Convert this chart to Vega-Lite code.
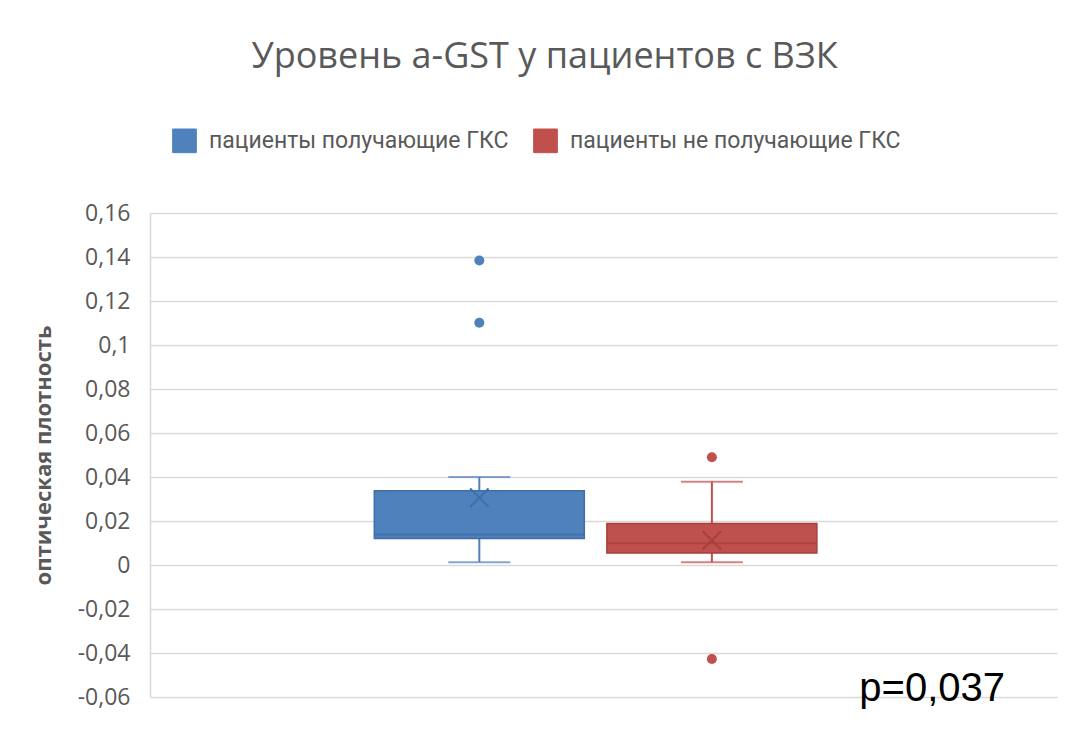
{
  "$schema": "https://vega.github.io/schema/vega-lite/v6.json",
  "width": 907,
  "height": 484,
  "autosize": {"type": "none"},
  "padding": {"left": 150, "top": 213, "right": 9, "bottom": 34},
  "background": "white",
  "title": {
    "text": "Уровень a-GST у пациентов с ВЗК",
    "fontSize": 36,
    "fontWeight": "normal",
    "color": "#595959",
    "font": "Open Sans",
    "anchor": "middle",
    "frame": "bounds",
    "offset": 44,
    "dy": -8
  },
  "datasets": {
    "summary": [
      {"group": "пациенты получающие ГКС", "lower": 0.0013, "q1": 0.0121, "median": 0.0139, "q3": 0.0337, "upper": 0.040, "mean": 0.0306},
      {"group": "пациенты не получающие ГКС", "lower": 0.0013, "q1": 0.0054, "median": 0.0099, "q3": 0.0189, "upper": 0.0378, "mean": 0.0112}
    ],
    "outliers": [
      {"group": "пациенты получающие ГКС", "value": 0.1384},
      {"group": "пациенты получающие ГКС", "value": 0.1101},
      {"group": "пациенты не получающие ГКС", "value": 0.049},
      {"group": "пациенты не получающие ГКС", "value": -0.0427}
    ],
    "note": [{"label": "p=0,037", "y": -0.062}]
  },
  "encoding": {
    "x": {
      "field": "group",
      "type": "nominal",
      "sort": ["пациенты получающие ГКС", "пациенты не получающие ГКС"],
      "scale": {"paddingInner": 0.1, "paddingOuter": 1.013, "align": 0.483},
      "axis": null
    }
  },
  "layer": [
    {
      "data": {"name": "summary"},
      "mark": {"type": "rule", "strokeWidth": 2},
      "encoding": {
        "y": {"field": "lower", "type": "quantitative", "scale": {"domain": [-0.06, 0.16], "nice": false, "zero": false},
          "axis": {
            "values": [-0.06, -0.04, -0.02, 0, 0.02, 0.04, 0.06, 0.08, 0.1, 0.12, 0.14, 0.16],
            "format": "~g",
            "grid": true, "gridColor": "#D9D9D9", "gridWidth": 1.5,
            "ticks": false, "tickSize": 0,
            "domain": true, "domainColor": "#D9D9D9", "domainWidth": 1.5,
            "labelFontSize": 23, "labelColor": "#595959", "labelPadding": 20, "labelFont": "Open Sans",
            "title": "оптическая плотность", "titleFontSize": 22, "titleFontWeight": "bold", "titleColor": "#595959",
            "titlePadding": 22, "titleFont": "Open Sans"
          }},
        "y2": {"field": "upper"},
        "color": {"field": "group", "type": "nominal",
          "scale": {"domain": ["пациенты получающие ГКС", "пациенты не получающие ГКС"], "range": ["#4F81BD", "#C0504D"]},
          "legend": {
            "orient": "none", "legendX": 22, "legendY": -85, "direction": "horizontal",
            "title": null, "symbolType": "square", "symbolSize": 560, "symbolStrokeWidth": 1, "symbolOpacity": 1,
            "labelFontSize": 23, "labelColor": "#595959", "labelFont": "Roboto", "labelLimit": 500,
            "columnPadding": 22, "labelOffset": 12,
            "encode": {"symbols": {"update": {"fillOpacity": {"value": 1}, "opacity": {"value": 1}, "strokeOpacity": {"value": 1}}}}
          }}
      }
    },
    {
      "data": {"name": "summary"},
      "mark": {"type": "tick", "size": 62, "thickness": 2, "orient": "horizontal"},
      "encoding": {
        "y": {"field": "lower", "type": "quantitative"},
        "color": {"field": "group", "type": "nominal"}
      }
    },
    {
      "data": {"name": "summary"},
      "mark": {"type": "tick", "size": 62, "thickness": 2, "orient": "horizontal"},
      "encoding": {
        "y": {"field": "upper", "type": "quantitative"},
        "color": {"field": "group", "type": "nominal"}
      }
    },
    {
      "data": {"name": "summary"},
      "mark": {"type": "bar", "size": 210, "strokeWidth": 1.5, "opacity": 1, "fillOpacity": 1},
      "encoding": {
        "y": {"field": "q1", "type": "quantitative"},
        "y2": {"field": "q3"},
        "color": {"field": "group", "type": "nominal"},
        "stroke": {"field": "group", "type": "nominal",
          "scale": {"domain": ["пациенты получающие ГКС", "пациенты не получающие ГКС"], "range": ["#3F6EA8", "#A4403D"]},
          "legend": null}
      }
    },
    {
      "data": {"name": "summary"},
      "mark": {"type": "tick", "size": 210, "thickness": 2, "orient": "horizontal"},
      "encoding": {
        "y": {"field": "median", "type": "quantitative"},
        "color": {"field": "group", "type": "nominal"},
        "fill": {"field": "group", "type": "nominal",
          "scale": {"domain": ["пациенты получающие ГКС", "пациенты не получающие ГКС"], "range": ["#3F6EA8", "#A4403D"]},
          "legend": null}
      }
    },
    {
      "data": {"name": "summary"},
      "mark": {"type": "point", "shape": "M-1,-1L1,1M1,-1L-1,1", "size": 340, "strokeWidth": 2, "filled": false, "opacity": 1},
      "encoding": {
        "y": {"field": "mean", "type": "quantitative"},
        "stroke": {"field": "group", "type": "nominal", "legend": null}
      }
    },
    {
      "data": {"name": "outliers"},
      "mark": {"type": "point", "shape": "circle", "size": 100, "filled": true, "opacity": 1},
      "encoding": {
        "y": {"field": "value", "type": "quantitative"},
        "color": {"field": "group", "type": "nominal"}
      }
    },
    {
      "data": {"name": "note"},
      "mark": {"type": "text", "align": "right", "baseline": "alphabetic", "fontSize": 40, "font": "Liberation Sans", "color": "black", "dx": -52},
      "encoding": {
        "x": {"value": "width"},
        "y": {"field": "y", "type": "quantitative"},
        "text": {"field": "label"}
      }
    }
  ],
  "config": {
    "view": {"stroke": null},
    "locale": {"number": {"decimal": ",", "thousands": " ", "grouping": [3], "currency": ["", ""], "minus": "-"}}
  }
}
